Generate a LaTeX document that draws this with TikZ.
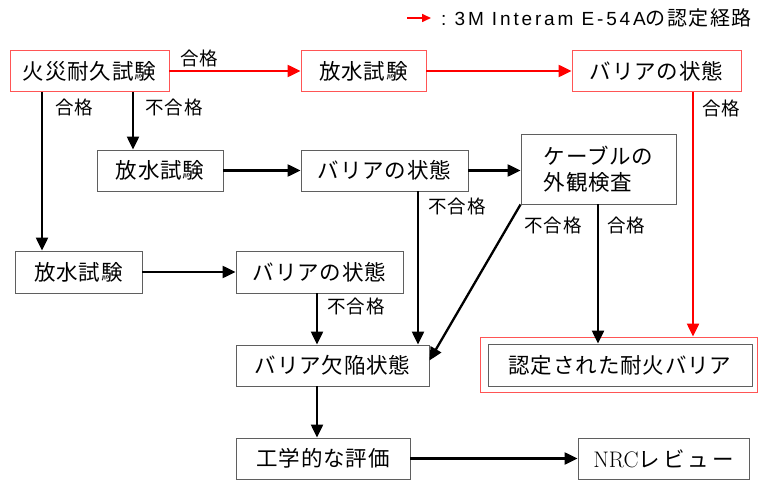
\documentclass[tikz,border=0pt]{standalone}
\usepackage{fontspec}
\newfontfamily\jp[LetterSpace=4]{Noto Sans CJK JP}
\newfontfamily\jpl[LetterSpace=7]{Noto Sans CJK JP}
\newfontfamily\jpw[LetterSpace=14]{Noto Sans CJK JP}
\newfontfamily\ar[LetterSpace=15]{Liberation Sans}
\usetikzlibrary{arrows.meta}
\definecolor{boxgray}{RGB}{95,95,95}
\definecolor{boxred}{RGB}{255,85,85}
\definecolor{pathred}{RGB}{255,0,0}
\begin{document}
\begin{tikzpicture}[x=1pt,y=-1pt,
  box/.style={draw=boxgray, line width=0.9pt, minimum height=41pt, inner sep=0pt, fill=white,
    font=\jp\fontsize{21.5}{26}\selectfont},
  rbox/.style={box, draw=boxred},
  lab/.style={font=\jpl\fontsize{18.5}{22}\selectfont, inner sep=0pt, anchor=west},
  arr/.style={line width=2.3pt, -{Triangle[length=13pt,width=12pt]}},
  rarr/.style={arr, color=pathred}]
\fill[white] (0,0) rectangle (763,484);
\useasboundingbox (0,0) rectangle (763,484);
% x positions of vertical connectors
\coordinate (c42) at (42,0);
\coordinate (c133) at (133,0);
\coordinate (c317) at (317,0);
\coordinate (c418) at (418,0);
\coordinate (c598) at (598,0);
\coordinate (c693) at (693,0);
% nodes
\node[rbox, minimum width=159pt] (fire) at (89.5,71) {火災耐久試験};
\node[rbox, minimum width=125pt] (w1) at (363.5,71) {放水試験};
\node[rbox, minimum width=169pt] (b1) at (656.5,71) {バリアの状態};
\node[box, minimum width=126pt] (w2) at (160,170.5) {放水試験};
\node[box, minimum width=167pt] (b2) at (384.5,170.5) {バリアの状態};
\node[box, minimum width=155pt, minimum height=70pt, align=left] (cab) at (598.5,169) {ケーブルの\\外観検査};
\node[box, minimum width=127pt, minimum height=42pt] (w3) at (78.5,272) {放水試験};
\node[box, minimum width=167pt, minimum height=42pt] (b3) at (319.5,272) {バリアの状態};
\node[box, minimum width=193pt] (def) at (332.5,365.5) {バリア欠陥状態};
\node[rbox, minimum width=277pt, minimum height=55pt] (certo) at (618.5,364.5) {};
\node[box, minimum width=264pt, minimum height=42pt] (certi) at (620,365) {認定された耐火バリア};
\node[box, minimum width=174pt] (eng) at (323,458.5) {工学的な評価};
\node[box, minimum width=171pt] (nrc) at (663.5,458.5) {{\rmfamily\fontsize{22.5}{26}\selectfont NRC}{\jpw レビュー}};
% legend
\node[inner sep=0pt, anchor=west, font=\fontsize{19}{23}\selectfont] (leg) at (441,18) {{\ar :\ 3M Interam E-54A}{\jpl\fontsize{20}{23}\selectfont の認定経路}};
\coordinate (la) at (407,18);
\draw[line width=1.6pt, color=pathred, -{Triangle[length=9pt,width=8pt]}] (la) -- ([xshift=-10pt]leg.west);
% red path
\draw[rarr] (fire.east) -- (w1.west);
\draw[rarr] (w1.east) -- (b1.west);
\draw[rarr] (b1.south -| c693) -- (certo.north -| c693);
% black connectors
\draw[arr] (fire.south -| c42) -- (w3.north -| c42);
\draw[arr] (fire.south -| c133) -- (w2.north -| c133);
\draw[arr] (w2.east) -- (b2.west);
\draw[arr] (b2.east) -- (b2.east -| cab.west);
\draw[arr] (b2.south -| c418) -- (def.north -| c418);
\draw[arr] (cab.south west) -- ([yshift=5pt]def.east);
\draw[arr] (cab.south -| c598) -- (certi.north -| c598);
\draw[arr] (w3.east) -- (b3.west);
\draw[arr] (b3.south -| c317) -- (def.north -| c317);
\draw[arr] (def.south -| c317) -- (eng.north -| c317);
\draw[arr] (eng.east) -- (nrc.west);
% labels
\node[lab] (l1) at (180,58) {合格};
\node[lab] (l2) at (55,107) {合格};
\node[lab] (l3) at (145,107) {不合格};
\node[lab] (l4) at (702,108) {合格};
\node[lab] (l5) at (428,206) {不合格};
\node[lab] (l6) at (524,225) {不合格};
\node[lab] (l7) at (607,225) {合格};
\node[lab] (l8) at (327,306) {不合格};
\end{tikzpicture}
\end{document}
